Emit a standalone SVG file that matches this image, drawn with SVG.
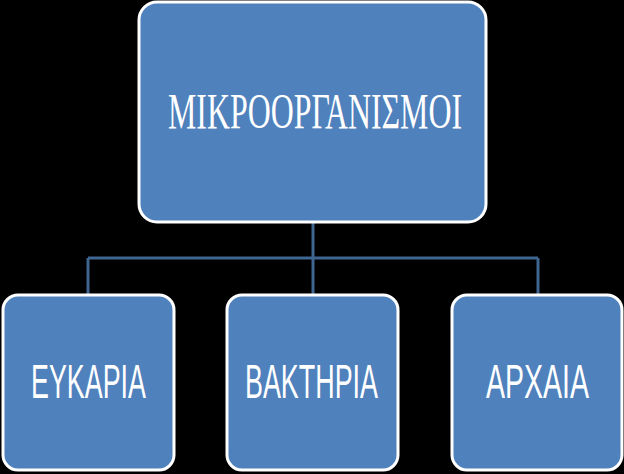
<svg xmlns="http://www.w3.org/2000/svg" width="624" height="474" viewBox="0 0 624 474">
<style>
.box{fill:#4f81bd;stroke:#ffffff;stroke-width:3}
.conn{fill:none;stroke:#3f6591;stroke-width:3}
.t1{font-family:"Liberation Serif","Times New Roman",serif;font-size:51px;fill:#ffffff}
.t2{font-family:"Liberation Sans",Arial,sans-serif;font-size:47.5px;fill:#ffffff}
</style>
<rect width="624" height="474" fill="#000000"/>
<g id="connectors">
<path class="conn" d="M313 223 V258 M88 258 H538 M88 258 V294 M313 258 V294 M538 258 V294"/>
</g>
<g id="root">
<rect class="box" x="139" y="2" width="347" height="220" rx="18"/>
<text class="t1" x="315" y="128" text-anchor="middle" textLength="294" lengthAdjust="spacingAndGlyphs">ΜΙΚΡΟΟΡΓΑΝΙΣΜΟΙ</text>
</g>
<g id="eukaria">
<rect class="box" x="3" y="295" width="171" height="175" rx="15"/>
<text class="t2" x="88.5" y="398" text-anchor="middle" textLength="115" lengthAdjust="spacingAndGlyphs">ΕΥΚΑΡΙΑ</text>
</g>
<g id="bakthria">
<rect class="box" x="227" y="295" width="171" height="175" rx="15"/>
<text class="t2" x="311.5" y="398" text-anchor="middle" textLength="133" lengthAdjust="spacingAndGlyphs">ΒΑΚΤΗΡΙΑ</text>
</g>
<g id="arxaia">
<rect class="box" x="452" y="295" width="170" height="175" rx="15"/>
<text class="t2" x="537.5" y="398" text-anchor="middle" textLength="103" lengthAdjust="spacingAndGlyphs">ΑΡΧΑΙΑ</text>
</g>
</svg>
